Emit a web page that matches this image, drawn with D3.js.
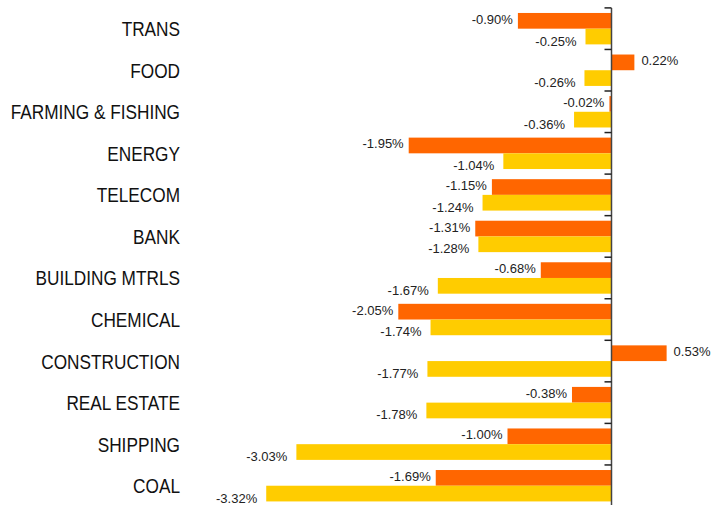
<!DOCTYPE html>
<html>
<head>
<meta charset="utf-8">
<script src="https://cdn.jsdelivr.net/npm/d3@7"></script>
<style>
  html, body { margin: 0; padding: 0; background: #fff; }
  svg { display: block; }
</style>
</head>
<body>
<svg id="chart" width="727" height="505"></svg>
<script>
const categories = ["TRANS", "FOOD", "FARMING & FISHING", "ENERGY", "TELECOM", "BANK",
  "BUILDING MTRLS", "CHEMICAL", "CONSTRUCTION", "REAL ESTATE", "SHIPPING", "COAL"];
const seriesA = [-0.90, 0.22, -0.02, -1.95, -1.15, -1.31, -0.68, -2.05, 0.53, -0.38, -1.00, -1.69];
const seriesB = [-0.25, -0.26, -0.36, -1.04, -1.24, -1.28, -1.67, -1.74, -1.77, -1.78, -3.03, -3.32];
const seriesNames = ["A", "B"];
const colors = ["#FF6600", "#FFCC00"];

const svg = d3.select("#chart");
const x = d3.scaleLinear().domain([-4, 1]).range([195.5, 715.5]);
const y = d3.scaleBand().domain(categories).range([7.9, 506.5]).paddingInner(0.244).paddingOuter(0.122);
const ySub = d3.scaleBand().domain(seriesNames).range([0, y.bandwidth()]);

const rows = [];
categories.forEach((c, i) => {
  rows.push({cat: c, s: "A", v: seriesA[i]});
  rows.push({cat: c, s: "B", v: seriesB[i]});
});

// bars
svg.append("g").selectAll("rect").data(rows).join("rect")
  .attr("x", d => Math.min(x(d.v), x(0)))
  .attr("y", d => y(d.cat) + ySub(d.s))
  .attr("width", d => Math.abs(x(d.v) - x(0)))
  .attr("height", ySub.bandwidth())
  .attr("fill", d => d.s === "A" ? colors[0] : colors[1]);

// value labels
svg.append("g").selectAll("text").data(rows).join("text")
  .attr("x", d => d.v < 0 ? x(d.v) - (d.s === "A" ? 5 : 9) : x(d.v) + 7)
  .attr("y", d => y(d.cat) + ySub(d.s) + ySub.bandwidth() / 2 + (d.s === "A" ? -1.5 : 4.5))
  .attr("dominant-baseline", "central")
  .attr("text-anchor", d => d.v < 0 ? "end" : "start")
  .attr("font-family", "'Liberation Sans', Arial, sans-serif")
  .attr("font-size", 13)
  .attr("fill", "#222")
  .text(d => d.v.toFixed(2) + "%");

// axis line and ticks at band boundaries
const step = y.step();
const axisG = svg.append("g");
axisG.append("line")
  .attr("x1", x(0)).attr("x2", x(0))
  .attr("y1", y(categories[0]) - step * 0.122).attr("y2", 505)
  .attr("stroke", "#444").attr("stroke-width", 1.5);
axisG.selectAll("line.tick").data(categories).join("line")
  .attr("class", "tick")
  .attr("x1", x(0) - 7).attr("x2", x(0))
  .attr("y1", d => y(d) - step * 0.122).attr("y2", d => y(d) - step * 0.122)
  .attr("stroke", "#222").attr("stroke-width", 1.5);

// category labels (condensed, like Arial Narrow)
svg.append("g").selectAll("text").data(categories).join("text")
  .attr("x", 180)
  .attr("y", d => y(d) + y.bandwidth() / 2)
  .attr("dominant-baseline", "central")
  .attr("text-anchor", "end")
  .attr("font-family", "'Liberation Sans', Arial, sans-serif")
  .attr("font-size", 21)
  .attr("fill", "#111")
  .text(d => d)
  .each(function() {
    const w = this.getComputedTextLength();
    d3.select(this).attr("textLength", w * 0.82).attr("lengthAdjust", "spacingAndGlyphs");
  });
</script>
</body>
</html>
